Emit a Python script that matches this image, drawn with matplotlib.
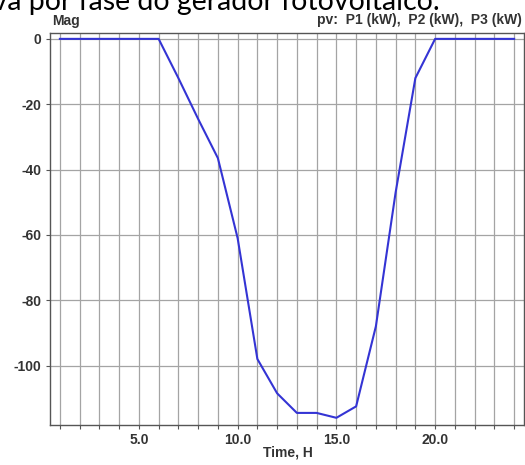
import matplotlib
matplotlib.use("Agg")
import matplotlib.pyplot as plt
from matplotlib.ticker import FixedLocator

hours = list(range(1, 25))
power = [0, 0, 0, 0, 0, 0, -12, -24.5, -36.5, -61, -98, -108.5,
         -114.5, -114.5, -116, -112.5, -88, -47, -12, 0, 0, 0, 0, 0]
xtick_vals = [5, 10, 15, 20]
xtick_labels = ["5.0", "10.0", "15.0", "20.0"]
ytick_vals = [0, -20, -40, -60, -80, -100]
ytick_labels = ["0", "-20", "-40", "-60", "-80", "-100"]

W, H = 525, 465
fig = plt.figure(figsize=(W / 100, H / 100), dpi=100)
ax = fig.add_axes([50 / W, (H - 425) / H, (524 - 50) / W, (425 - 33) / H])

ax.plot(hours, power, color="#3434d4", lw=1.5, zorder=3)

ax.set_xlim(0.5, 24.5)
ax.set_ylim(-118.2, 1.8)

ax.xaxis.set_major_locator(FixedLocator(xtick_vals))
ax.set_xticklabels(xtick_labels)
ax.xaxis.set_minor_locator(FixedLocator(hours))
ax.yaxis.set_major_locator(FixedLocator(ytick_vals))
ax.set_yticklabels(ytick_labels)

ax.grid(which="both", axis="x", color="#a4a4a4", lw=0.9)
ax.grid(which="major", axis="y", color="#a4a4a4", lw=0.9)
ax.set_axisbelow(True)

fs = 10
tickfont = dict(family="Liberation Sans", size=fs, weight="bold", color="#333333")
for lab in ax.get_xticklabels() + ax.get_yticklabels():
    lab.set_fontfamily("Liberation Sans")
    lab.set_fontsize(fs)
    lab.set_fontweight("bold")
    lab.set_color("#333333")

ax.tick_params(which="both", direction="out", length=3, width=0.8, color="#555555", pad=3)
for s in ax.spines.values():
    s.set_color("#555555")
    s.set_linewidth(1.0)

fig.text(52 / W, 1 - 21 / H, "Mag", ha="left", va="center", **tickfont)
fig.text(522 / W, 1 - 20 / H, "pv:  P1 (kW),  P2 (kW),  P3 (kW)", ha="right", va="center", **tickfont)
fig.text(288 / W, 1 - 452 / H, "Time, H", ha="center", va="center", **tickfont)

fig.text(440 / W, 1 - 10 / H, "Figura 20 – Potência ativa por fase do gerador fotovoltaico.",
         ha="right", va="baseline", family="Lato", fontsize=20.5, color="black")

fig.savefig("out.png", dpi=100)
